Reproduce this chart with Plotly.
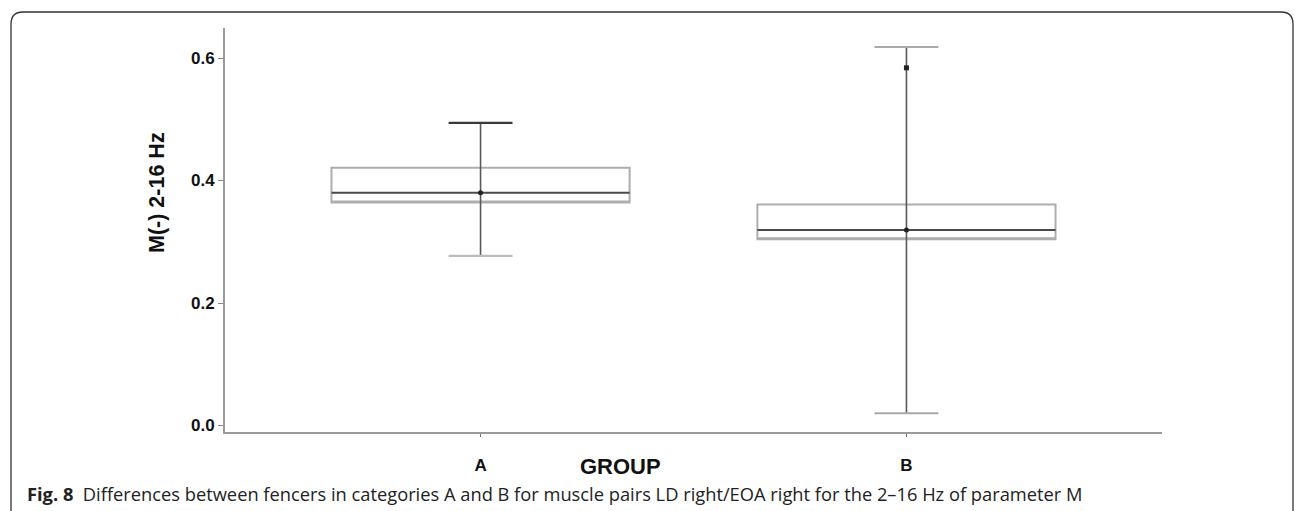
import plotly.graph_objects as go

# ---- data ----
groups = ["A", "B"]
q1 = [0.364, 0.304]
median = [0.380, 0.319]
q3 = [0.421, 0.361]
whisker_low = [0.277, 0.020]
whisker_high = [0.494, 0.618]
outlier_group = ["B"]
outlier_value = [0.584]

y_ticks = [0.0, 0.2, 0.4, 0.6]
y_title = "M(-) 2-16 Hz"
x_title = "GROUP"
caption_bold = "Fig. 8"
caption_text = "Differences between fencers in categories A and B for muscle pairs LD right/EOA right for the 2–16 Hz of parameter M"

# ---- layout geometry (pixels) ----
W, H = 1295, 511
L, R, T, B = 225, 133, 28, 79
PW, PH = W - L - R, H - T - B


def px(x):
    return (x - L) / PW


def py(y):
    return (H - B - y) / PH


xpos = list(range(len(groups)))
box_half = 0.35
cap_half = 0.075

fig = go.Figure()

# boxes
fig.add_trace(go.Box(
    x=xpos, q1=q1, median=q1, q3=q3, lowerfence=q1, upperfence=q3,
    width=2 * box_half, fillcolor="white",
    line=dict(color="#adadad", width=2), whiskerwidth=0,
    hoverinfo="skip", showlegend=False,
))

# whiskers (vertical lines)
wx, wy = [], []
for i in xpos:
    wx += [i, i, None]
    wy += [whisker_low[i], whisker_high[i], None]
fig.add_trace(go.Scatter(x=wx, y=wy, mode="lines",
                         line=dict(color="#595959", width=1.6),
                         hoverinfo="skip", showlegend=False))

# caps
cap_colors = [["#bdbdbd", "#3a3a3a"], ["#a9a9a9", "#a9a9a9"]]
for i in xpos:
    for j, val in enumerate([whisker_low[i], whisker_high[i]]):
        fig.add_trace(go.Scatter(
            x=[i - cap_half, i + cap_half], y=[val, val], mode="lines",
            line=dict(color=cap_colors[i][j], width=2.2),
            hoverinfo="skip", showlegend=False))

# median lines
mx, my = [], []
for i in xpos:
    mx += [i - box_half, i + box_half, None]
    my += [median[i], median[i], None]
fig.add_trace(go.Scatter(x=mx, y=my, mode="lines",
                         line=dict(color="#4a4a4a", width=2),
                         hoverinfo="skip", showlegend=False))

# dots
fig.add_trace(go.Scatter(x=xpos, y=median, mode="markers",
                         marker=dict(color="#222222", size=5),
                         hoverinfo="skip", showlegend=False))
fig.add_trace(go.Scatter(x=[groups.index(g) for g in outlier_group], y=outlier_value,
                         mode="markers", marker=dict(color="#222222", size=5, symbol="square"),
                         hoverinfo="skip", showlegend=False))

axis_font = dict(family="Liberation Sans, Arial, sans-serif", size=17, color="#111111")

fig.update_layout(
    width=W, height=H,
    margin=dict(l=L, r=R, t=T, b=B, autoexpand=False),
    paper_bgcolor="white", plot_bgcolor="white",
    showlegend=False,
    xaxis=dict(
        range=[-0.6, 1.6], tickvals=xpos,
        ticktext=[f"<b>{g}</b>" for g in groups],
        showline=True, linecolor="#9a9a9a", linewidth=2,
        ticks="outside", ticklen=3, tickcolor="#777777",
        showgrid=False, zeroline=False, tickfont=axis_font,
        ticklabelstandoff=14,
    ),
    yaxis=dict(
        range=[-0.0106, 0.649], tickvals=y_ticks, tickformat=".1f",
        ticktext=[f"<b>{v:.1f}</b>" for v in y_ticks],
        showline=True, linecolor="#9a9a9a", linewidth=2,
        ticks="outside", ticklen=5, tickcolor="#888888",
        showgrid=False, zeroline=False, tickfont=axis_font,
    ),
    annotations=[
        dict(text=f"<b>{y_title}</b>", xref="paper", yref="paper",
             x=px(157), y=py(193), textangle=-90, showarrow=False,
             font=dict(family="Liberation Sans, Arial, sans-serif", size=21.5, color="#111111"),
             xanchor="center", yanchor="middle"),
        dict(text=f"<b>{x_title}</b>", xref="paper", yref="paper",
             x=px(620), y=py(466), showarrow=False,
             font=dict(family="Liberation Sans, Arial, sans-serif", size=22, color="#111111"),
             xanchor="center", yanchor="middle"),
        dict(text=f"<b>{caption_bold}</b>  {caption_text}", xref="paper", yref="paper",
             x=px(25), y=py(494), showarrow=False,
             font=dict(family="Open Sans, Noto Sans, sans-serif", size=18.3, color="#222222"),
             xanchor="left", yanchor="middle"),
    ],
    shapes=[
        dict(type="path", xref="paper", yref="paper",
             path=(f"M {px(11)},{py(511)} L {px(11)},{py(24)} "
                   f"Q {px(11)},{py(12)} {px(23)},{py(12)} "
                   f"L {px(1281)},{py(12)} "
                   f"Q {px(1293)},{py(12)} {px(1293)},{py(24)} "
                   f"L {px(1293)},{py(511)}"),
             line=dict(color="#333333", width=1.3)),
    ],
)

fig.write_html("out.html", config={"displayModeBar": False},
               post_script="document.body.style.margin='0';document.body.style.overflow='hidden';")
